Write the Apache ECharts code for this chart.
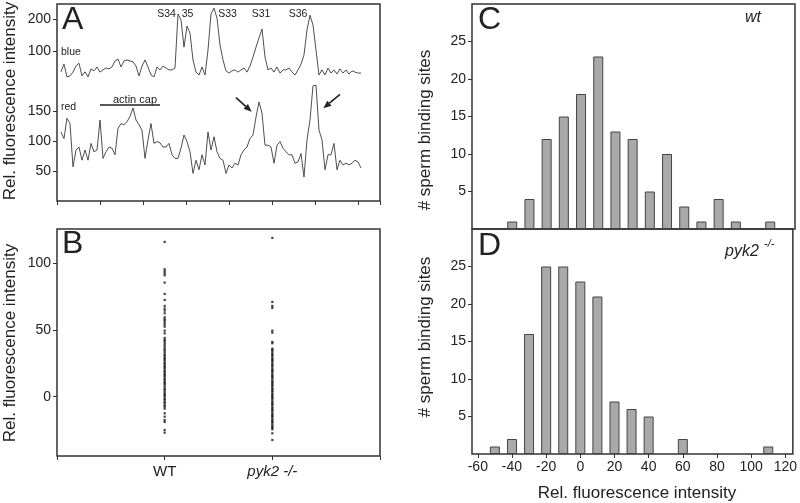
<!DOCTYPE html>
<html><head><meta charset="utf-8">
<script src="https://cdn.jsdelivr.net/npm/echarts@6/dist/echarts.min.js"></script>
<style>html,body{margin:0;padding:0;background:#fff}#c{width:800px;height:503px}</style>
</head><body><div id="c"></div>
<script>
const FONT = '"Liberation Sans", Arial, Helvetica, sans-serif';
const INK = '#222';

// ---- Panel A: line-scan profiles (one sample per step along the scan) ----
const blueTrace = [35, 59, 19, 22, 34, 53, 62, 22, 35, 19,
  44, 38, 50, 34, 41, 47, 44, 50, 69, 75,
  50, 69, 72, 69, 66, 53, 22, 53, 72, 50,
  25, 19, 50, 41, 53, 47, 41, 41, 47, 216,
  197, 112, 178, 156, 72, 34, 25, 50, 25, 103,
  216, 234, 203, 119, 72, 38, 31, 38, 41, 34,
  41, 47, 34, 53, 81, 112, 141, 169, 81, 41,
  47, 34, 50, 31, 41, 41, 47, 34, 25, 41,
  59, 88, 166, 212, 181, 103, 25, 41, 25, 47,
  31, 41, 28, 44, 31, 41, 28, 38, 34, 31, 31];
const redTrace = [115, 104, 138, 129, 57, 85, 90, 68, 85, 68,
  96, 82, 85, 135, 71, 82, 90, 88, 77, 121,
  129, 127, 132, 141, 155, 135, 127, 118, 71, 102,
  129, 96, 99, 97, 90, 90, 96, 77, 71, 71,
  88, 110, 99, 82, 46, 68, 52, 77, 60, 115,
  85, 107, 82, 71, 68, 46, 60, 55, 63, 60,
  77, 85, 90, 104, 110, 140, 165, 146, 93, 93,
  90, 63, 93, 99, 88, 82, 77, 77, 63, 65,
  79, 40, 102, 135, 192, 193, 118, 102, 52, 77,
  77, 96, 52, 68, 60, 63, 60, 63, 68, 65, 55];
const blueTicks = [100, 200];
const redTicks = [50, 100, 150];
const peakLabels = ['S34', '35', 'S33', 'S31', 'S36'];

// ---- Panel B: individual sites ----
const groupLabels = ['WT', 'pyk2 -/-'];
const wtDots = [116, 95.5, 94, 92.5, 91, 85.5, 77, 72.5, 68, 66, 64.5, 62.5, 59.5, 58, 57, 55.5, 54, 52.5,
  49.5, 47.5, 44, 42.5, 41.5, 40, 38.5, 37, 35.5, 34.5, 33, 31.5, 30.5, 29, 28, 27, 25.5, 24.5, 23, 22, 21,
  19.5, 18.5, 17, 16, 15, 13.5, 12.5, 11, 10, 9, 7.5, 6, 5, 3.5, 2, 1, 0, -1.5, -2.5, -4, -5, -6.5, -7.5,
  -9, -12.5, -15, -17.5, -19, -25, -27];
const pykDots = [119, 71, 68, 66.5, 49.5, 48, 41, 40, 36, 35, 34, 32.5, 31.5, 30.5, 29, 28, 27, 26, 24.5,
  23.5, 22.5, 21, 20, 19, 18, 16.5, 15.5, 14.5, 13.5, 12, 11, 10, 9, 8, 6.5, 5.5, 4.5, 3.5, 2, 1, 0, -1, -2,
  -3.5, -4.5, -5.5, -6.5, -8, -9, -10, -11, -12.5, -13.5, -14.5, -15.5, -17, -18, -19, -20, -21.5, -22.5,
  -23.5, -24.5, -27.5, -32.5];
const bTicks = [0, 50, 100];

// ---- Panels C, D: histograms ----
const binCenters = [-50, -40, -30, -20, -10, 0, 10, 20, 30, 40, 50, 60, 70, 80, 90, 100, 110];
const wtCounts  = [0, 1, 4, 12, 15, 18, 23, 13, 12, 5, 10, 3, 1, 4, 1, 0, 1];
const pykCounts = [1, 2, 16, 25, 25, 23, 21, 7, 6, 5, 0, 2, 0, 0, 0, 0, 1];
const histXTicks = [-60, -40, -20, 0, 20, 40, 60, 80, 100, 120];
const countTicks = [5, 10, 15, 20, 25];

const txt = {color: INK, fontFamily: FONT, fontSize: 14};
const tick = {show: true, length: 4, lineStyle: {color: '#333', width: 1}};
const noLine = {show: false, onZero: false};
const frame = {show: true, borderColor: '#333', borderWidth: 1.5, backgroundColor: 'transparent'};
const rectA = {left: 57, top: 4, width: 323, height: 197};
const rectB = {left: 57, top: 229, width: 323, height: 227};
const rectC = {left: 472, top: 4, width: 323, height: 225};
const rectD = {left: 472, top: 229, width: 323, height: 225};

function hist(counts) {
  return binCenters.map((b, i) => [b, counts[i]]).filter(d => d[1] > 0);
}
function yAxisCustom(grid, min, max, ticks) {
  return {type: 'value', gridIndex: grid, min, max, splitLine: {show: false}, axisLine: noLine,
    axisTick: Object.assign({customValues: ticks}, tick),
    axisLabel: Object.assign({customValues: ticks, margin: 6}, txt)};
}
function hiddenAxis(grid, min, max) {
  return {type: 'value', gridIndex: grid, min, max, show: false, axisLine: noLine};
}

function arrow(tail, tip) {
  const dx = tip[0] - tail[0], dy = tip[1] - tail[1];
  const L = Math.hypot(dx, dy), ux = dx / L, uy = dy / L;
  const bx = tip[0] - 8 * ux, by = tip[1] - 8 * uy;
  const px = -uy * 3.3, py = ux * 3.3;
  return [
    {type: 'polyline', shape: {points: [tail, [bx, by]]}, style: {stroke: INK, lineWidth: 1.6}, z: 100},
    {type: 'polygon', shape: {points: [tip, [bx + px, by + py], [bx - px, by - py]]}, style: {fill: INK}, z: 100}
  ];
}
function label(text, x, y, size, opts) {
  return {type: 'text', x, y, z: 100, rotation: (opts && opts.rot) || 0,
    style: Object.assign({text, fill: INK, font: ((opts && opts.italic) ? 'italic ' : '') + size + 'px ' + FONT,
      align: (opts && opts.align) || 'center', verticalAlign: 'middle',
      textAlign: (opts && opts.align) || 'center', textVerticalAlign: 'middle'})};
}

const peakX = [166.5, 187.5, 227.5, 261, 298];

const option = {
  animation: false,
  backgroundColor: '#fff',
  grid: [
    Object.assign({}, rectA, frame),
    Object.assign({}, rectA, {show: false}),
    Object.assign({}, rectA, {show: false}),
    Object.assign({}, rectB, frame),
    Object.assign({}, rectC, frame),
    Object.assign({}, rectD, frame)
  ],
  xAxis: [
    {type: 'value', gridIndex: 0, min: 0, max: 7.51, interval: 1, splitLine: {show: false},
      axisLine: noLine, axisTick: tick, axisLabel: {show: false}},
    hiddenAxis(1, -1.333, 106.33),
    hiddenAxis(2, -1.333, 106.33),
    {type: 'value', gridIndex: 3, min: 0, max: 3, interval: 1, splitLine: {show: false},
      axisLine: noLine, axisTick: tick,
      axisLabel: Object.assign({}, txt, {customValues: [1, 2], margin: 8, fontSize: 15,
        formatter: v => v === 1 ? groupLabels[0] : '{i|' + groupLabels[1] + '}',
        rich: {i: {fontStyle: 'italic', fontFamily: FONT, fontSize: 15, color: INK}}})},
    {type: 'value', gridIndex: 4, min: -63.4, max: 124.4, splitLine: {show: false},
      axisLine: noLine, axisTick: {show: false}, axisLabel: {show: false}},
    {type: 'value', gridIndex: 5, min: -63.4, max: 124.4, splitLine: {show: false},
      axisLine: noLine, axisTick: Object.assign({customValues: histXTicks}, tick),
      axisLabel: Object.assign({customValues: histXTicks, margin: 6}, txt)}
  ],
  yAxis: [
    hiddenAxis(0, 0, 1),
    yAxisCustom(1, -369, 247, blueTicks),
    yAxisCustom(2, 0, 328.3, redTicks),
    yAxisCustom(3, -44.5, 125.7, bTicks),
    yAxisCustom(4, 0, 30, countTicks),
    yAxisCustom(5, 0, 30, countTicks)
  ],
  series: [
    {type: 'line', xAxisIndex: 1, yAxisIndex: 1, data: blueTrace.map((v, i) => [i, v]),
      symbol: 'none', lineStyle: {color: '#3a3a3a', width: 0.9}},
    {type: 'line', xAxisIndex: 2, yAxisIndex: 2, data: redTrace.map((v, i) => [i, v]),
      symbol: 'none', lineStyle: {color: '#3a3a3a', width: 0.9}},
    {type: 'scatter', xAxisIndex: 3, yAxisIndex: 3, data: wtDots.map(v => [1, v]),
      symbol: 'rect', symbolSize: 2.2, itemStyle: {color: '#111'}},
    {type: 'scatter', xAxisIndex: 3, yAxisIndex: 3, data: pykDots.map(v => [2, v]),
      symbol: 'rect', symbolSize: 2.2, itemStyle: {color: '#111'}},
    {type: 'bar', xAxisIndex: 4, yAxisIndex: 4, data: hist(wtCounts), barWidth: 10,
      itemStyle: {color: '#a9a9a9', borderColor: '#444', borderWidth: 1}},
    {type: 'bar', xAxisIndex: 5, yAxisIndex: 5, data: hist(pykCounts), barWidth: 10,
      itemStyle: {color: '#a9a9a9', borderColor: '#444', borderWidth: 1}}
  ],
  graphic: {elements: [
    label('A', 62, 20, 32, {align: 'left'}),
    label('B', 62, 244, 32, {align: 'left'}),
    label('C', 478, 20, 32, {align: 'left'}),
    label('D', 478, 246, 32, {align: 'left'}),
    label('Rel. fluorescence intensity', 10, 101, 17, {rot: Math.PI / 2}),
    label('Rel. fluorescence intensity', 10, 343, 17, {rot: Math.PI / 2}),
    label('# sperm binding sites', 425, 130, 17, {rot: Math.PI / 2}),
    label('# sperm binding sites', 425, 337, 17, {rot: Math.PI / 2}),
    label('Rel. fluorescence intensity', 637, 493, 17),
    label('wt', 753, 18, 16, {italic: true}),
    label('pyk2', 742, 252, 16, {italic: true}),
    label('-/-', 764, 244, 11, {italic: true, align: 'left'}),
    label('blue', 61, 52, 10.5, {align: 'left'}),
    label('red', 61, 107, 10.5, {align: 'left'}),
    label('actin cap', 135, 100, 11),
    {type: 'line', shape: {x1: 100, y1: 105, x2: 160, y2: 105}, style: {stroke: INK, lineWidth: 1.5}, z: 100}
  ].concat(peakLabels.map((t, i) => label(t, peakX[i], 14, 10.5)))
   .concat(arrow([236, 97.7], [251.7, 111.7]))
   .concat(arrow([340, 94.3], [323.3, 108.3]))}
};

const chart = echarts.init(document.getElementById('c'), null, {renderer: 'canvas'});
chart.setOption(option);
</script></body></html>
